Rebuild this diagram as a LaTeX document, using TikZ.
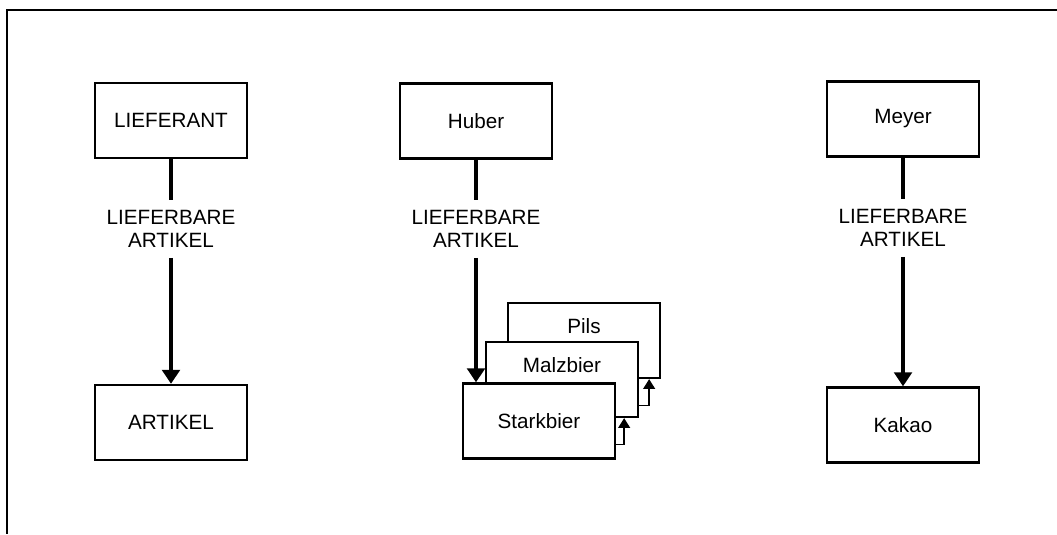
\documentclass[tikz,border=0pt]{standalone}
\usepackage{fontspec}
\setmainfont{Liberation Sans}
\usetikzlibrary{arrows.meta, positioning}
\tikzset{
    entity/.style={
        draw=black,
        line width=1.6pt,
        fill=white,
        minimum width=3.8cm,
        minimum height=1.875cm,
        font=\fontsize{14.7}{16.5}\selectfont,
        align=center,
        inner sep=4pt
    },
    rellabel/.style={
        font=\fontsize{14.7}{16.5}\selectfont,
        align=center,
        minimum height=1.425cm,
        inner sep=0pt
    },
    stacktext/.style={
        font=\fontsize{14.7}{16.5}\selectfont
    },
    relline/.style={
        line width=3pt
    },
    relarrow/.style={
        -{Triangle[width=12.5pt,length=10pt]},
        line width=3pt
    },
    chainarrow/.style={
        -{Triangle[width=8.5pt,length=7pt]},
        line width=1pt
    },
    frame/.style={
        line width=1.1pt
    }
}
\begin{document}
\begin{tikzpicture}[x=0.025cm, y=-0.025cm]
        \useasboundingbox (0,0) rectangle (1057,534);
        % Rahmen
        \draw[frame] (1057,10) -- (7,10) -- (7,534);

        % Schema
        \node[entity] (lieferant) at (171,120.5) {LIEFERANT};
        \node[rellabel] (rel1) at (171,229) {LIEFERBARE\\ARTIKEL};
        \node[entity] (artikel) at (171,422.5) {ARTIKEL};
        \draw[relline] (lieferant.south) -- (rel1.north);
        \draw[relarrow] (rel1.south) -- (artikel.north);

        % Huber mit mehreren Artikeln
        \node[entity] (huber) at (476,121) {Huber};
        \node[rellabel] (rel2) at (476,229) {LIEFERBARE\\ARTIKEL};
        \node[entity] (pils) at (584,340.5) {};
        \node[stacktext, below=0.3cm of pils.north] (pilstext) {Pils};
        \node[entity] (malzbier) at (562,379.5) {};
        \node[stacktext, below=0.3cm of malzbier.north] (malztext) {Malzbier};
        \node[entity] (starkbier) at (539,421) {Starkbier};
        \draw[relline] (huber.south) -- (rel2.north);
        \draw[relarrow] (rel2.south) -- (rel2.south |- starkbier.north);
        \draw[chainarrow] ([yshift=-0.58cm]starkbier.east) -| ([xshift=0.2cm]starkbier.east |- malzbier.south);
        \draw[chainarrow] ([yshift=-0.65cm]malzbier.east) -| ([xshift=0.25cm]malzbier.east |- pils.south);

        % Meyer mit einem Artikel
        \node[entity] (meyer) at (903,119) {Meyer};
        \node[rellabel] (rel3) at (903,228) {LIEFERBARE\\ARTIKEL};
        \node[entity] (kakao) at (903,425) {Kakao};
        \draw[relline] (meyer.south) -- (rel3.north);
        \draw[relarrow] (rel3.south) -- (kakao.north);
\end{tikzpicture}
\end{document}
